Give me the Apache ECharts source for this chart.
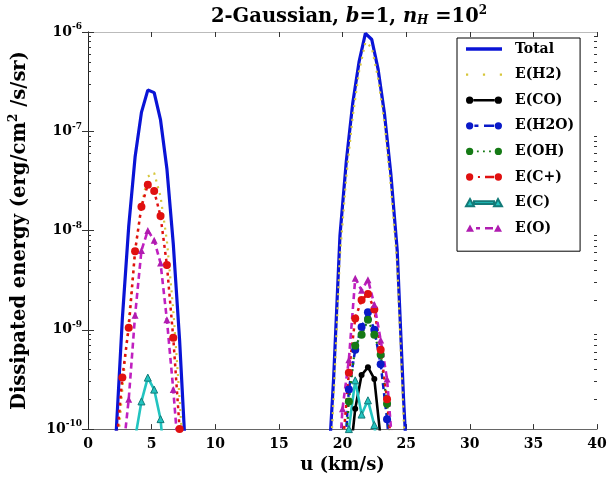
<!DOCTYPE html>
<html>
<head>
<meta charset="utf-8">
<script src="https://cdn.jsdelivr.net/npm/echarts@6/dist/echarts.min.js"></script>
<style>html,body{margin:0;padding:0;background:#fff}#c{width:616px;height:479px}</style>
</head>
<body>
<div id="c"></div>
<script>
// velocity grids (km/s)
const u1 = [1.7, 2.2, 2.7, 3.2, 3.7, 4.2, 4.7, 5.2, 5.7, 6.2, 6.7, 7.2, 7.7, 8.2];
const u2 = [18.8, 19.3, 19.8, 20.3, 20.8, 21.3, 21.8, 22.3, 22.8, 23.3, 23.8, 24.3, 24.8, 25.3, 25.8];
const u2b = [18.5, 19.0, 19.5, 20.0, 20.5, 21.0, 21.5, 22.0, 22.5, 23.0, 23.5, 24.0, 24.5, 25.0, 25.5];

// dissipated energy (erg/cm2/s/sr)
const total1 = [3.2e-12, 8.5e-11, 1.3e-9, 1.1e-8, 5.5e-8, 1.55e-7, 2.6e-7, 2.45e-7, 1.3e-7, 4.2e-8, 7.4e-9, 7.8e-10, 4.7e-11, 1.6e-12];
const total2 = [2.5e-11, 3.2e-10, 8.9e-9, 5e-8, 1.9e-7, 5e-7, 9.7e-7, 8.4e-7, 4.2e-7, 1.5e-7, 3.7e-8, 6.3e-9, 2e-10, 1.26e-11, 1e-12];

const h2_1 = [3e-12, 4e-11, 2.5e-10, 1.26e-9, 6.3e-9, 1.8e-8, 3.5e-8, 3.8e-8, 2.2e-8, 7.9e-9, 1.6e-9, 2e-10, 2e-11, 1e-12];
const h2_2 = [1.26e-11, 2e-10, 5.6e-9, 3.5e-8, 1.4e-7, 4e-7, 7.9e-7, 7e-7, 3.4e-7, 1.2e-7, 2.8e-8, 4.5e-9, 1.3e-10, 8e-12, 6e-13];

const co_2 = [1e-15, 1e-14, 1e-13, 1e-12, 4e-11, 1.6e-10, 3.5e-10, 4.2e-10, 3.2e-10, 8e-11, 1e-11, 1e-12, 1e-13, 1e-14, 1e-15];
const h2o_2 = [1e-14, 1e-13, 1e-12, 2.5e-11, 2.5e-10, 6.3e-10, 1.07e-9, 1.5e-9, 1e-9, 4.5e-10, 1.26e-10, 2e-11, 2e-12, 1e-13, 1e-14];
const oh_2 = [1e-14, 1e-13, 1e-12, 2e-11, 1.9e-10, 6.9e-10, 8.9e-10, 1.26e-9, 8.9e-10, 5.6e-10, 1.8e-10, 2.5e-11, 2e-12, 1e-13, 1e-14];

const cp_1 = [3e-12, 6.3e-11, 3.3e-10, 1.05e-9, 6.2e-9, 1.74e-8, 2.9e-8, 2.5e-8, 1.4e-8, 4.5e-9, 8.3e-10, 1e-10, 1e-11, 1e-12];
const cp_2 = [1e-13, 1e-12, 1e-11, 6.3e-11, 3.7e-10, 1.3e-9, 2e-9, 2.3e-9, 1.6e-9, 6.3e-10, 2e-10, 4e-11, 5e-12, 1e-12, 1e-13];

const c_1 = [1e-14, 1e-13, 1e-12, 1.6e-11, 8e-11, 1.9e-10, 3.3e-10, 2.5e-10, 1.26e-10, 2.5e-11, 1e-12, 1e-13, 1e-14, 1e-15];
const c_2 = [1e-15, 1e-14, 1e-13, 1e-12, 1e-10, 3.1e-10, 1.4e-10, 1.95e-10, 1.1e-10, 3.2e-11, 1e-12, 1e-13, 1e-14, 1e-15, 1e-16];

const o_1 = [1e-12, 1e-11, 5e-11, 2e-10, 1.4e-9, 6.3e-9, 1e-8, 8e-9, 4.7e-9, 1.26e-9, 2.5e-10, 4e-11, 4e-12, 1e-13];
const o_2 = [1e-13, 1e-12, 1.6e-11, 1.6e-10, 5e-10, 3.3e-9, 2.5e-9, 3.2e-9, 1.8e-9, 7.9e-10, 3.2e-10, 5e-11, 1e-11, 1e-12, 1e-13];

const xTicks = [0, 5, 10, 15, 20, 25, 30, 35, 40];
const seriesNames = ['Total', 'E(H2)', 'E(CO)', 'E(H2O)', 'E(OH)', 'E(C+)', 'E(C)', 'E(O)'];

function pairs(us, vs) { return us.map((x, i) => [x, vs[i]]); }

const yMinor = [];
for (let e = -10; e < -6; e++) for (let m = 2; m <= 9; m++) yMinor.push(m * Math.pow(10, e));

// legend icon shapes (36 x 8 box)
function circ(cx) { const r = 3.6, cy = 4; return 'M' + (cx - r) + ',' + cy + 'A' + r + ',' + r + ',0,1,0,' + (cx + r) + ',' + cy + 'A' + r + ',' + r + ',0,1,0,' + (cx - r) + ',' + cy + 'Z'; }
function tri(x0) { return 'M' + x0 + ',7.6L' + (x0 + 4) + ',0.4L' + (x0 + 8) + ',7.6Z'; }
function bar(x1, x2, h) { const y1 = 4 - h / 2, y2 = 4 + h / 2; return 'M' + x1 + ',' + y1 + 'L' + x2 + ',' + y1 + 'L' + x2 + ',' + y2 + 'L' + x1 + ',' + y2 + 'Z'; }
const icons = [
  'path://' + bar(0, 36, 3.4),
  'path://' + bar(0, 2.2, 2.2) + bar(16.9, 19.1, 2.2) + bar(33.8, 36, 2.2),
  'path://' + circ(3.8) + bar(7.5, 28.5, 2.6) + circ(32.2),
  'path://' + circ(3.8) + bar(8.5, 12.5, 2.4) + bar(18, 28, 2.4) + circ(32.2),
  'path://' + circ(3.8) + bar(11, 12.8, 1.8) + bar(17, 18.8, 1.8) + bar(23, 24.8, 1.8) + circ(32.2),
  'path://' + circ(3.8) + bar(12, 14, 2) + bar(19, 28, 2.4) + circ(32.2),
  'path://' + tri(0) + bar(8, 28, 2.6) + tri(28),
  'path://' + tri(0) + bar(10, 14, 2.4) + bar(19, 27, 2.4) + tri(28)
];

const FONT = 'DejaVu Serif';
const chart = echarts.init(document.getElementById('c'), null, {renderer: 'canvas'});

function yLab(v) {
  const e = Math.round(Math.log10(v));
  return '{b|10}{s|' + e + '}';
}
const yRich = {
  b: {fontFamily: FONT, fontWeight: 'bold', fontSize: 14, color: '#000'},
  s: {fontFamily: FONT, fontWeight: 'bold', fontSize: 9, color: '#000', padding: [0, 0, 10, 0]}
};

function mkSeries(name, data, color, opts) {
  return Object.assign({
    name: name, type: 'line', data: data, xAxisIndex: 0, yAxisIndex: 0,
    symbol: 'none', symbolSize: 7, clip: true,
    itemStyle: {color: color},
    lineStyle: {color: color, width: 2.5, type: 'solid'},
    emphasis: {disabled: true}, animation: false
  }, opts || {});
}

const series = [
  mkSeries(seriesNames[0], pairs(u1, total1).concat(pairs(u2, total2)), '#0a14d6', {lineStyle: {color: '#0a14d6', width: 3.2}}),
  mkSeries(seriesNames[1], pairs(u1, h2_1).concat(pairs(u2, h2_2)), '#d6c63a', {lineStyle: {color: '#d6c63a', width: 2.2, type: [2, 5]}}),
  mkSeries(seriesNames[2], pairs(u2b, co_2), '#000000', {symbol: 'circle', symbolSize: 6, lineStyle: {color: '#000', width: 2.6}}),
  mkSeries(seriesNames[3], pairs(u2b, h2o_2), '#0a1ac8', {symbol: 'circle', symbolSize: 8, lineStyle: {color: '#0a1ac8', width: 2.5, type: [6, 4]}}),
  mkSeries(seriesNames[4], pairs(u2b, oh_2), '#157a15', {symbol: 'circle', symbolSize: 8, lineStyle: {color: '#157a15', width: 2.2, type: [2, 4]}}),
  mkSeries(seriesNames[5], pairs(u1, cp_1).concat(pairs(u2b, cp_2)), '#e01010', {symbol: 'circle', symbolSize: 8, lineStyle: {color: '#e01010', width: 2.5, type: [3, 4]}}),
  mkSeries(seriesNames[6], pairs(u1, c_1).concat(pairs(u2b, c_2)), '#22c4c0', {symbol: 'triangle', symbolSize: 7, itemStyle: {color: '#22c4c0', borderColor: '#137a78', borderWidth: 1}, lineStyle: {color: '#22c4c0', width: 2.6}}),
  mkSeries(seriesNames[7], pairs(u1, o_1).concat(pairs(u2b, o_2)), '#b01cb0', {symbol: 'triangle', symbolSize: 7, lineStyle: {color: '#c020c0', width: 2.6, type: [6, 4]}})
];

const option = {
  backgroundColor: '#fff',
  animation: false,
  title: {
    text: '{a|2-Gaussian, }{i|b}{a|=1, }{i|n}{sub|H}{a| =10}{sup|2}',
    left: 344, top: 0, textAlign: 'center',
    textStyle: {
      rich: {
        a: {fontFamily: FONT, fontWeight: 'bold', fontSize: 19.5, color: '#000'},
        i: {fontFamily: FONT, fontStyle: 'italic', fontSize: 19.5, color: '#000'},
        sub: {fontFamily: FONT, fontStyle: 'italic', fontSize: 12, color: '#000', padding: [9, 0, 0, 0]},
        sup: {fontFamily: FONT, fontWeight: 'bold', fontSize: 12, color: '#000', padding: [0, 0, 11, 0]}
      }
    }
  },
  legend: {
    data: seriesNames.map((n, i) => ({name: n, icon: icons[i]})),
    orient: 'vertical',
    left: 457, top: 38,
    backgroundColor: '#fff', borderColor: '#000', borderWidth: 1,
    padding: [4, 6, 16, 8],
    itemWidth: 36, itemHeight: 12, itemGap: 11.6,
    textStyle: {fontFamily: FONT, fontWeight: 'bold', fontSize: 14, color: '#000', padding: [0, 0, 0, 8]}
  },
  grid: {left: 88, right: 19, top: 32, bottom: 47},
  xAxis: [{
    type: 'value', min: 0, max: 40, interval: 5, position: 'bottom',
    name: 'u (km/s)', nameLocation: 'middle', nameGap: 26,
    nameTextStyle: {fontFamily: FONT, fontWeight: 'bold', fontSize: 18, color: '#000'},
    axisLine: {show: true, lineStyle: {color: '#666', width: 1}},
    axisTick: {show: true, inside: true, length: 5, lineStyle: {color: '#333'}},
    axisLabel: {fontFamily: FONT, fontWeight: 'bold', fontSize: 14, color: '#000', margin: 8,
      formatter: v => (xTicks.indexOf(v) >= 0 ? String(v) : '')},
    splitLine: {show: false}
  }, {
    type: 'value', min: 0, max: 40, interval: 5, position: 'top',
    axisLine: {show: true, lineStyle: {color: '#bbb', width: 1}},
    axisTick: {show: true, inside: true, length: 5, lineStyle: {color: '#333'}},
    axisLabel: {show: false}, splitLine: {show: false}
  }],
  yAxis: [{
    type: 'log', min: 1e-10, max: 1e-6, logBase: 10, position: 'left',
    name: 'Dissipated energy (erg/cm{s|2} /s/sr)', nameLocation: 'middle', nameGap: 56, nameRotate: 90,
    nameTextStyle: {fontFamily: FONT, fontWeight: 'bold', fontSize: 19.5, color: '#000',
      rich: {s: {fontFamily: FONT, fontWeight: 'bold', fontSize: 12, color: '#000', padding: [0, 0, 12, 0]}}},
    axisLine: {show: true, lineStyle: {color: '#888', width: 1}},
    axisTick: {show: true, inside: true, length: 6, lineStyle: {color: '#333'}},
    axisLabel: {formatter: yLab, rich: yRich, margin: 6},
    splitLine: {show: false}
  }, {
    type: 'log', min: 1e-10, max: 1e-6, logBase: 10, position: 'right',
    axisLine: {show: true, lineStyle: {color: '#222', width: 1}},
    axisTick: {show: true, inside: true, length: 6, lineStyle: {color: '#333'}},
    axisLabel: {show: false}, splitLine: {show: false}
  }, {
    type: 'log', min: 1e-10, max: 1e-6, logBase: 10, position: 'left',
    axisLine: {show: false},
    axisTick: {show: true, inside: true, length: 3, customValues: yMinor, lineStyle: {color: '#333'}},
    axisLabel: {show: false, customValues: yMinor}, splitLine: {show: false}
  }, {
    type: 'log', min: 1e-10, max: 1e-6, logBase: 10, position: 'right',
    axisLine: {show: false},
    axisTick: {show: true, inside: true, length: 3, customValues: yMinor, lineStyle: {color: '#333'}},
    axisLabel: {show: false, customValues: yMinor}, splitLine: {show: false}
  }],
  series: series
};
chart.setOption(option);
</script>
</body>
</html>
